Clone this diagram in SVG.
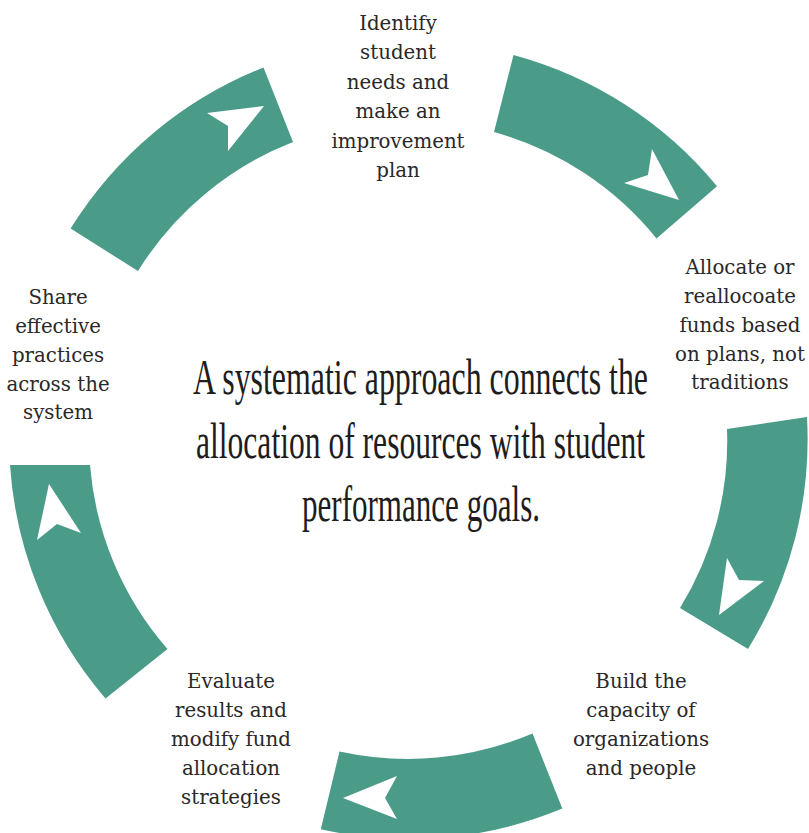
<svg xmlns="http://www.w3.org/2000/svg" width="809" height="833" viewBox="0 0 809 833">
  <style>
    .band { fill: #4A9C89; }
    .head { fill: #FFFFFF; }
    .lbl { font-family: "DejaVu Serif", "Liberation Serif", serif; font-size: 19.8px; fill: #2A2828; text-anchor: middle; }
    .title { font-family: "Liberation Serif", "Times New Roman", serif; font-size: 51px; fill: #1E1C1C; text-anchor: middle; }
  </style>
  <rect width="809" height="833" fill="#FFFFFF"/>

  <g id="connectors">
    <g id="arc-share-identify">
      <path class="band" d="M 70.6 228.6 A 399 399 0 0 1 263.5 67.5 L 293 142 A 319 319 0 0 0 138 271 Z"/>
      <polygon class="head" points="264,106 207,113 228,126 228,151"/>
    </g>
    <g id="arc-identify-allocate">
      <path class="band" d="M 513.5 55 A 399 399 0 0 1 717 186.2 L 656.5 238.5 A 319 319 0 0 0 494 132 Z"/>
      <polygon class="head" points="679,200 652,149 648,175 624,183"/>
    </g>
    <g id="arc-allocate-build">
      <path class="band" d="M 807 417 A 399 399 0 0 1 748 649 L 680 608 A 319 319 0 0 0 727 429 Z"/>
      <polygon class="head" points="719,615 727,558 739,580 764,581"/>
    </g>
    <g id="arc-build-evaluate">
      <path class="band" d="M 562.3 808.6 A 399 399 0 0 1 320.8 829.2 L 339.5 751.6 A 319 319 0 0 0 532.5 733.5 Z"/>
      <polygon class="head" points="343,798 397,776 385,798 397,819"/>
    </g>
    <g id="arc-evaluate-share">
      <path class="band" d="M 105.5 698.5 A 399 399 0 0 1 10 465 L 90 465 A 319 319 0 0 0 167.5 649 Z"/>
      <polygon class="head" points="49,484 81,533 57,524 37,540"/>
    </g>
  </g>

  <g id="node-identify">
    <text class="lbl" x="398" y="29.5">Identify</text>
    <text class="lbl" x="398" y="59">student</text>
    <text class="lbl" x="398" y="88.5">needs and</text>
    <text class="lbl" x="398" y="118">make an</text>
    <text class="lbl" x="398" y="147.5">improvement</text>
    <text class="lbl" x="398" y="177">plan</text>
  </g>

  <g id="node-allocate">
    <text class="lbl" x="740" y="273.5">Allocate or</text>
    <text class="lbl" x="740" y="302.5">reallocoate</text>
    <text class="lbl" x="740" y="331.5">funds based</text>
    <text class="lbl" x="740" y="360.5">on plans, not</text>
    <text class="lbl" x="740" y="389">traditions</text>
  </g>

  <g id="node-build">
    <text class="lbl" x="641" y="688">Build the</text>
    <text class="lbl" x="641" y="717">capacity of</text>
    <text class="lbl" x="641" y="746">organizations</text>
    <text class="lbl" x="641" y="775">and people</text>
  </g>

  <g id="node-evaluate">
    <text class="lbl" x="231" y="688">Evaluate</text>
    <text class="lbl" x="231" y="717">results and</text>
    <text class="lbl" x="231" y="746">modify fund</text>
    <text class="lbl" x="231" y="775">allocation</text>
    <text class="lbl" x="231" y="804">strategies</text>
  </g>

  <g id="node-share">
    <text class="lbl" x="58" y="304">Share</text>
    <text class="lbl" x="58" y="333">effective</text>
    <text class="lbl" x="58" y="362">practices</text>
    <text class="lbl" x="58" y="390.5">across the</text>
    <text class="lbl" x="58" y="419">system</text>
  </g>

  <g id="center-statement">
    <text class="title" x="420.5" y="394" textLength="455" lengthAdjust="spacingAndGlyphs">A systematic approach connects the</text>
    <text class="title" x="420.5" y="457.5" textLength="449" lengthAdjust="spacingAndGlyphs">allocation of resources with student</text>
    <text class="title" x="421" y="521" textLength="238" lengthAdjust="spacingAndGlyphs">performance goals.</text>
  </g>
</svg>
